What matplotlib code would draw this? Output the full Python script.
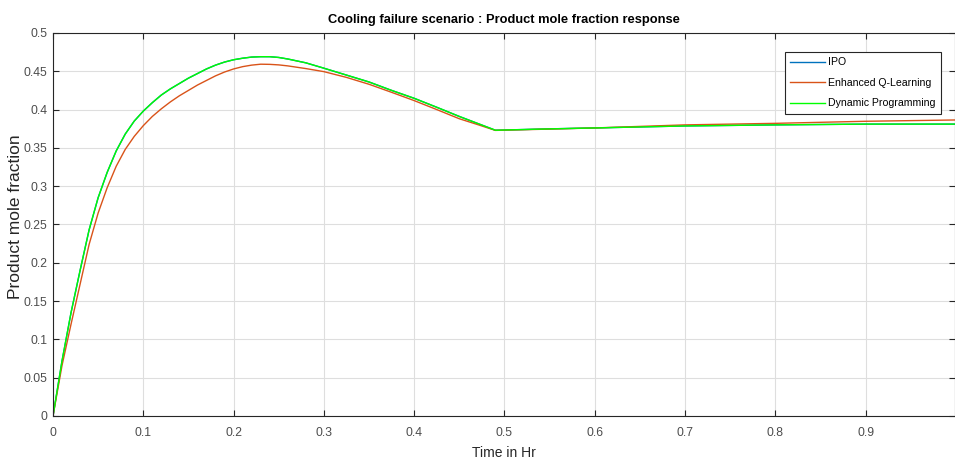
import matplotlib
matplotlib.use("Agg")
import matplotlib.pyplot as plt

# time axis (hours) and read-off mole fractions
time_hr = [0, 0.01, 0.02, 0.03, 0.04, 0.05, 0.06, 0.07, 0.08, 0.09, 0.1,
           0.11, 0.12, 0.13, 0.14, 0.15, 0.16, 0.17, 0.18, 0.19, 0.2,
           0.21, 0.22, 0.23, 0.24, 0.25, 0.26, 0.28, 0.3, 0.325, 0.35,
           0.375, 0.4, 0.425, 0.45, 0.47, 0.49, 0.55, 0.6, 0.7, 0.8, 0.9, 0.999]

dp = [0, 0.072, 0.135, 0.190, 0.243, 0.285, 0.318, 0.346, 0.368, 0.385, 0.398,
      0.409, 0.419, 0.427, 0.434, 0.441, 0.447, 0.453, 0.458, 0.462, 0.465,
      0.467, 0.4685, 0.469, 0.469, 0.468, 0.466, 0.461, 0.454, 0.445, 0.436,
      0.425, 0.4147, 0.403, 0.391, 0.382, 0.373, 0.3748, 0.376, 0.3786, 0.380, 0.381, 0.381]

ipo = list(dp)  # IPO lies under Dynamic Programming

eql = [0, 0.066, 0.120, 0.172, 0.224, 0.265, 0.298, 0.326, 0.348, 0.365, 0.379,
       0.391, 0.401, 0.410, 0.418, 0.425, 0.432, 0.438, 0.444, 0.449, 0.453,
       0.456, 0.458, 0.4592, 0.459, 0.4583, 0.457, 0.4535, 0.4495, 0.442, 0.433,
       0.4225, 0.4117, 0.400, 0.388, 0.3805, 0.3728, 0.3745, 0.376, 0.380, 0.382, 0.3847, 0.3864]

series_names = ["IPO", "Enhanced Q-Learning", "Dynamic Programming"]
x_ticks = [0, 0.1, 0.2, 0.3, 0.4, 0.5, 0.6, 0.7, 0.8, 0.9]
y_ticks = [0, 0.05, 0.1, 0.15, 0.2, 0.25, 0.3, 0.35, 0.4, 0.45, 0.5]

plt.rcParams['font.family'] = ['Liberation Sans', 'DejaVu Sans']

fig = plt.figure(figsize=(9.55, 4.66), dpi=100)
ax = fig.add_axes([0.0555, 0.1073, 0.9445, 0.822])

ax.plot(time_hr, ipo, color='#0072BD', lw=1.0, label=series_names[0])
ax.plot(time_hr, eql, color='#D95319', lw=1.0, label=series_names[1])
ax.plot(time_hr, dp, color='#00FF00', lw=1.0, label=series_names[2])

ax.set_xlim(0, 0.999)
ax.set_ylim(0, 0.5)
ax.set_xticks(x_ticks)
ax.set_yticks(y_ticks)
ax.set_xticklabels([f"{v:g}" for v in x_ticks])
ax.set_yticklabels([f"{v:g}" for v in y_ticks])
ax.tick_params(direction='in', length=4, width=0.8, colors='#262626',
               labelcolor='#4d4d4d', labelsize=8.8, top=True, right=True)
ax.tick_params(axis='x', pad=8)
ax.tick_params(axis='y', pad=4)
for s in ax.spines.values():
    s.set_color('#262626')
    s.set_linewidth(0.8)
ax.grid(True, color='#dedede', lw=0.8)
ax.set_axisbelow(True)

ax.set_title("Cooling failure scenario : Product mole fraction response",
             fontsize=9.3, fontweight='bold', pad=7)
ax.set_xlabel("Time in Hr", fontsize=10, color='#262626', labelpad=5)
ax.set_ylabel("Product mole fraction", fontsize=12.5, color='#262626')
ax.yaxis.set_label_coords(-0.033, 0.52)

leg = ax.legend(loc='upper right', bbox_to_anchor=(0.99, 0.964), fontsize=7.6,
                fancybox=False, framealpha=1, edgecolor='#262626',
                handlelength=3.3, borderpad=0.5, labelspacing=1.0, handletextpad=0.3)
leg.get_frame().set_linewidth(0.8)

fig.savefig("out.png", dpi=100)
